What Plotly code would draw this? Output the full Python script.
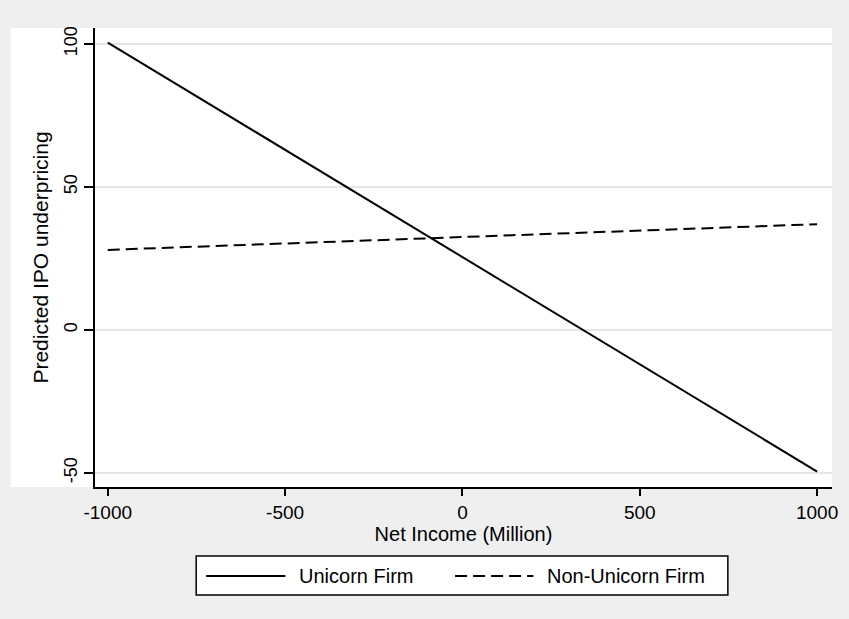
import plotly.graph_objects as go

# Predicted IPO underpricing by net income, unicorn vs non-unicorn firms
income = [-1000, -500, 0, 500, 1000]
unicorn = [100.5, 63.0, 25.5, -12.0, -49.5]
non_unicorn = [28.0, 30.3, 32.5, 34.8, 37.0]
series_names = ["Unicorn Firm", "Non-Unicorn Firm"]
x_ticks = [-1000, -500, 0, 500, 1000]
y_ticks = [-50, 0, 50, 100]

FONT = "Liberation Sans, Arial, Helvetica, sans-serif"
BG = "#EFEFEF"
DASH = "12px,6px"

fig = go.Figure()
fig.add_trace(go.Scatter(x=income, y=unicorn, mode="lines", name=series_names[0],
                         line=dict(color="black", width=2), showlegend=False))
fig.add_trace(go.Scatter(x=income, y=non_unicorn, mode="lines", name=series_names[1],
                         line=dict(color="black", width=2, dash=DASH), showlegend=False))

# white graph panel behind the plot and the y-axis labels
shapes = [dict(type="rect", xref="paper", yref="paper", x0=-0.1144, x1=1.0, y0=0.0, y1=1.0,
               fillcolor="white", line=dict(width=0), layer="below")]

# legend box with long line samples
lg_y = -0.1939
shapes += [
    dict(type="rect", xref="paper", yref="paper", x0=0.1373, x1=0.8587, y0=-0.2353, y1=-0.1503,
         fillcolor="white", line=dict(color="black", width=1.5)),
    dict(type="line", xref="paper", yref="paper", x0=0.1507, x1=0.2584, y0=lg_y, y1=lg_y,
         line=dict(color="black", width=2)),
    dict(type="line", xref="paper", yref="paper", x0=0.4886, x1=0.5949, y0=lg_y, y1=lg_y,
         line=dict(color="black", width=2, dash=DASH)),
]
annotations = [
    dict(xref="paper", yref="paper", x=0.2746, y=lg_y, text=series_names[0], showarrow=False,
         xanchor="left", yanchor="middle", font=dict(size=20, color="black", family=FONT)),
    dict(xref="paper", yref="paper", x=0.6110, y=lg_y, text=series_names[1], showarrow=False,
         xanchor="left", yanchor="middle", font=dict(size=20, color="black", family=FONT)),
]

fig.update_layout(
    width=849, height=619,
    margin=dict(l=95, r=11, t=28, b=132),
    paper_bgcolor=BG, plot_bgcolor="white",
    font=dict(family=FONT, size=18, color="black"),
    shapes=shapes, annotations=annotations,
    xaxis=dict(
        range=[-1036, 1042], tickvals=x_ticks, ticktext=[str(v) for v in x_ticks],
        showgrid=False, zeroline=False,
        showline=True, linecolor="black", linewidth=2,
        ticks="outside", ticklen=7, tickwidth=2, tickcolor="black",
        tickfont=dict(size=19),
        title=dict(text="Net Income (Million)", standoff=2, font=dict(size=20)),
    ),
    yaxis=dict(
        range=[-54.9, 105.6], tickvals=y_ticks, ticktext=[str(v) for v in y_ticks],
        tickangle=-90, tickfont=dict(size=18),
        showgrid=True, gridcolor="#E6E6E6", gridwidth=2, zeroline=False,
        showline=True, linecolor="black", linewidth=2,
        ticks="outside", ticklen=9, tickwidth=2, tickcolor="black",
        title=dict(text="Predicted IPO underpricing", standoff=6, font=dict(size=21)),
    ),
)

fig.write_html("out.html")
